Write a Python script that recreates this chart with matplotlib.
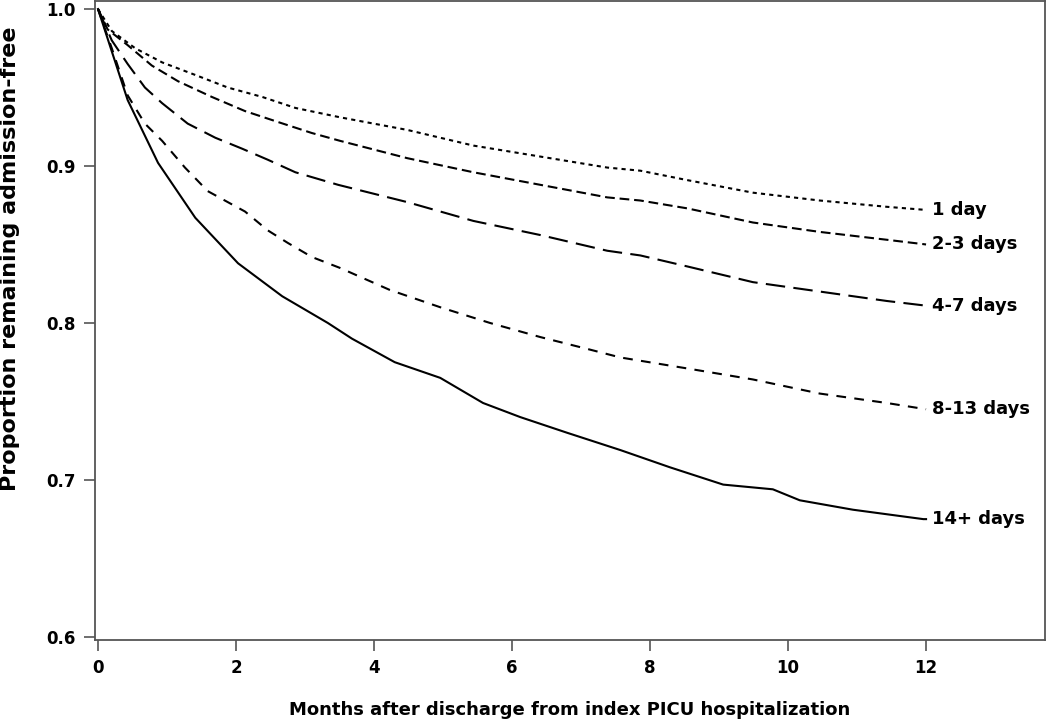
import matplotlib
matplotlib.use("Agg")
import matplotlib.pyplot as plt

# Kaplan-Meier style curves (months, proportion)
t_1day = [0, 0.2, 0.54, 0.93, 1.41, 1.88, 2.38, 2.86, 3.51, 4.48, 5.44, 6.41, 7.38, 7.86, 8.54, 9.49, 10.46, 11.43, 12.0]
s_1day = [1.0, 0.986, 0.975, 0.966, 0.958, 0.950, 0.944, 0.937, 0.931, 0.923, 0.913, 0.906, 0.899, 0.897, 0.891, 0.883, 0.878, 0.874, 0.872]

t_23 = [0, 0.14, 0.43, 0.78, 1.16, 1.65, 2.13, 2.61, 3.1, 3.51, 4.48, 5.44, 6.41, 7.38, 7.86, 8.54, 9.49, 10.46, 11.43, 12.0]
s_23 = [1.0, 0.987, 0.977, 0.964, 0.954, 0.944, 0.935, 0.928, 0.921, 0.916, 0.905, 0.896, 0.888, 0.880, 0.878, 0.873, 0.864, 0.858, 0.853, 0.850]

t_47 = [0, 0.2, 0.43, 0.68, 0.93, 1.3, 1.7, 2.09, 2.46, 2.86, 3.48, 4.48, 5.44, 6.41, 7.38, 7.86, 8.54, 9.49, 10.46, 11.43, 12.0]
s_47 = [1.0, 0.980, 0.965, 0.950, 0.940, 0.927, 0.918, 0.911, 0.904, 0.896, 0.888, 0.877, 0.865, 0.856, 0.846, 0.843, 0.836, 0.826, 0.820, 0.814, 0.811]

t_813 = [0, 0.2, 0.43, 0.68, 0.93, 1.26, 1.59, 1.88, 2.13, 2.46, 2.75, 3.1, 3.51, 4.23, 4.96, 5.68, 6.41, 7.13, 7.57, 8.54, 9.49, 10.46, 11.43, 12.0]
s_813 = [1.0, 0.975, 0.945, 0.927, 0.916, 0.899, 0.884, 0.877, 0.871, 0.859, 0.851, 0.842, 0.835, 0.821, 0.810, 0.800, 0.791, 0.783, 0.778, 0.771, 0.764, 0.755, 0.749, 0.745]

t_14 = [0, 0.2, 0.43, 0.87, 1.41, 2.03, 2.67, 3.33, 3.68, 4.3, 4.96, 5.58, 6.12, 6.8, 7.57, 8.29, 9.06, 9.78, 10.17, 10.94, 11.96, 12.0]
s_14 = [1.0, 0.973, 0.942, 0.902, 0.867, 0.838, 0.817, 0.800, 0.790, 0.775, 0.765, 0.749, 0.740, 0.730, 0.719, 0.708, 0.697, 0.694, 0.687, 0.681, 0.675, 0.675]

labels = ["1 day", "2-3 days", "4-7 days", "8-13 days", "14+ days"]
xticks = [0, 2, 4, 6, 8, 10, 12]
yticks = [0.6, 0.7, 0.8, 0.9, 1.0]

plt.rcParams['lines.scale_dashes'] = False
plt.rcParams['font.family'] = ['DejaVu Sans']
plt.rcParams['font.weight'] = 'bold'

fig = plt.figure(figsize=(10.5, 7.22), dpi=100)
ax = fig.add_axes([0.0905, 0.1136, 0.9045, 0.8854])

series = [(t_1day, s_1day, (0, (3, 3))),
          (t_23, s_23, (0, (7, 3.5))),
          (t_47, s_47, (0, (14, 6))),
          (t_813, s_813, (0, (7, 6))),
          (t_14, s_14, '-')]
for (t, s, ls), lab in zip(series, labels):
  ax.plot(t, s, color='black', lw=1.5, linestyle=ls)
  ax.text(t[-1] + 0.08, s[-1], lab, fontsize=13, fontweight='bold', va='center', ha='left')

ax.set_xlim(-0.043, 13.72)
ax.set_ylim(0.598, 1.0053)
ax.set_xticks(xticks)
ax.set_xticklabels([str(v) for v in xticks])
ax.set_yticks(yticks)
ax.set_yticklabels(["%.1f" % v for v in yticks])
for sp in ax.spines.values():
  sp.set_color('#555555'); sp.set_linewidth(1.3)
ax.tick_params(axis='both', direction='out', length=8, width=1.2, color='#555555', labelsize=12, pad=6)
for lbl in ax.get_xticklabels() + ax.get_yticklabels():
  lbl.set_fontweight('bold')
ax.set_xlabel("Months after discharge from index PICU hospitalization", fontsize=13, fontweight='bold', labelpad=17)
ax.set_ylabel("Proportion remaining admission-free", fontsize=16, fontweight='bold', va='center')
ax.yaxis.set_label_coords(-0.09, 0.597)

fig.savefig("out.png", dpi=100)
